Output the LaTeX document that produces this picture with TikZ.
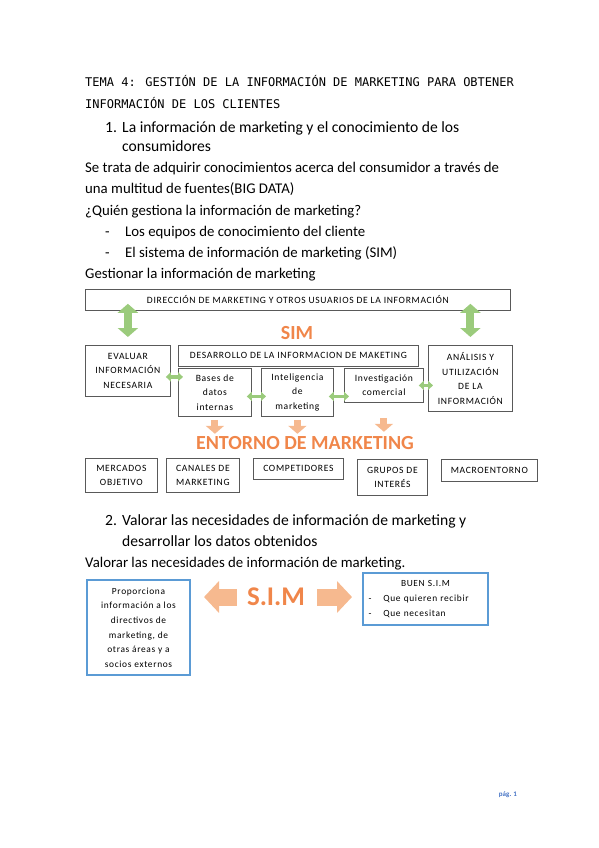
\documentclass[tikz,border=0pt]{standalone}
\usepackage{fontspec}
\setmainfont{Carlito}
\newfontfamily\titulofont{DejaVu Sans Mono}
\newfontfamily\cajafont{Carlito}[LetterSpace=7]
\usetikzlibrary{arrows.meta,positioning,calc}

\definecolor{verdeflecha}{HTML}{9BCB7C}
\definecolor{naranjaflecha}{HTML}{F6B98F}
\definecolor{naranjatexto}{HTML}{F0864A}
\definecolor{azulmarco}{HTML}{5B9BD5}
\definecolor{azulpagina}{HTML}{4472C4}
\definecolor{grismarco}{HTML}{595959}

\begin{document}
\begin{tikzpicture}[x=1pt,y=-1pt,
		linea/.style={anchor=base west, inner sep=0pt, font=\fontsize{14.8}{17}\selectfont},
		apartado/.style={linea, font=\fontsize{15.6}{18}\selectfont},
		titulo/.style={anchor=base west, inner sep=0pt, font=\titulofont\fontsize{12}{14}\selectfont},
		cajon/.style={draw=grismarco, line width=0.8pt, anchor=north west, align=center, inner sep=1pt, font=\cajafont\fontsize{9.6}{14.6}\selectfont},
		cajonazul/.style={draw=azulmarco, line width=2pt, anchor=north west, align=center, inner sep=2pt, font=\cajafont\fontsize{9.4}{14.6}\selectfont},
		rotulo/.style={text=naranjatexto, font=\bfseries\fontsize{20}{20}\selectfont, inner sep=0pt},
		flechaverde/.style={draw=verdeflecha, line width=8pt, {Triangle[width=20pt,length=9pt]}-{Triangle[width=20pt,length=9pt]}},
		flechachica/.style={draw=verdeflecha, line width=3.5pt, {Triangle[width=9pt,length=5pt]}-{Triangle[width=9pt,length=5pt]}, shorten <=-5pt, shorten >=-5pt},
		flechanaranja/.style={draw=naranjaflecha, line width=7pt, -{Triangle[width=18pt,length=8pt]}},
		flechagrande/.style={draw=naranjaflecha, line width=17pt, -{Triangle[width=31pt,length=15pt]}}
	]
	\useasboundingbox (0,0) rectangle (599,848);

	% encabezado
	\node[titulo] (titulo1) at (85,87) {TEMA 4: GESTIÓN DE LA INFORMACIÓN DE MARKETING PARA OBTENER};
	\node[titulo] (titulo2) at (85,109) {INFORMACIÓN DE LOS CLIENTES};
	\node[apartado] (num1) at (105,132) {1.};
	\node[apartado] (punto1a) at (122,132) {La información de marketing y el conocimiento de los};
	\node[apartado] (punto1b) at (122,151) {consumidores};
	\node[linea] (texto1) at (85,172) {Se trata de adquirir conocimientos acerca del consumidor a través de};
	\node[linea] (texto2) at (85,193) {una multitud de fuentes(BIG DATA)};
	\node[linea] (texto3) at (85,215) {¿Quién gestiona la información de marketing?};
	\node[linea] (guion1) at (105,236) {-};
	\node[linea] (lista1) at (125,236) {Los equipos de conocimiento del cliente};
	\node[linea] (guion2) at (105,257) {-};
	\node[linea] (lista2) at (125,257) {El sistema de información de marketing (SIM)};
	\node[linea] (texto4) at (85,278) {Gestionar la información de marketing};

	% esquema SIM
	\node[cajon, minimum width=425pt, minimum height=21pt] (direccion) at (85,289) {DIRECCIÓN DE MARKETING Y OTROS USUARIOS DE LA INFORMACIÓN};
	\node[rotulo] (sim) at (297,333) {SIM};
	\node[cajon, minimum width=85pt, minimum height=51pt] (evaluar) at (85,345) {EVALUAR\\INFORMACIÓN\\NECESARIA};
	\node[cajon, minimum width=240pt, minimum height=21pt] (desarrollo) at (178,345) {DESARROLLO DE LA INFORMACION DE MAKETING};
	\node[cajon, minimum width=73pt, minimum height=48pt] (bases) at (178,368) {Bases de\\datos\\internas};
	\node[cajon, minimum width=72pt, minimum height=48pt] (inteligencia) at (261,368) {Inteligencia\\de\\marketing};
	\node[cajon, minimum width=79pt, minimum height=34pt] (investigacion) at (344,368) {Investigación\\comercial};
	\node[cajon, minimum width=84pt, minimum height=66pt] (analisis) at (428,345) {ANÁLISIS Y\\UTILIZACIÓN\\DE LA\\INFORMACIÓN};

	\draw[flechaverde, shorten <=-7pt, shorten >=8pt] (evaluar.north |- direccion.south) -- (evaluar.north);
	\draw[flechaverde, shorten <=-7pt, shorten >=8pt] (analisis.north |- direccion.south) -- (analisis.north);
	\draw[flechachica] ([yshift=-6pt]evaluar.east) -- ([yshift=-6pt]evaluar.east -| bases.west);
	\draw[flechachica] ([yshift=-4pt]bases.east) -- ([yshift=-4pt]bases.east -| inteligencia.west);
	\draw[flechachica] ([yshift=-4pt]inteligencia.east) -- ([yshift=-4pt]inteligencia.east -| investigacion.west);
	\draw[flechachica] (investigacion.east) -- (investigacion.east -| analisis.west);

	\draw[flechanaranja] ([yshift=-3pt]bases.south) -- ++(0,14);
	\draw[flechanaranja] ([yshift=-3pt]inteligencia.south) -- ++(0,14);
	\draw[flechanaranja] ([yshift=-15pt]investigacion.south) -- ++(0,14);

	\node[rotulo] (entorno) at (305,443) {ENTORNO DE MARKETING};
	\node[cajon, minimum width=72pt, minimum height=34pt] (mercados) at (85,458) {MERCADOS\\OBJETIVO};
	\node[cajon, minimum width=73pt, minimum height=34pt] (canales) at (166,458) {CANALES DE\\MARKETING};
	\node[cajon, minimum width=90pt, minimum height=21pt] (competidores) at (253,458) {COMPETIDORES};
	\node[cajon, minimum width=70pt, minimum height=36pt] (grupos) at (357,459) {GRUPOS DE\\INTERÉS};
	\node[cajon, minimum width=96pt, minimum height=22pt] (macro) at (441,459) {MACROENTORNO};

	% apartado 2
	\node[apartado] (num2) at (105,525) {2.};
	\node[apartado] (punto2a) at (122,525) {Valorar las necesidades de información de marketing y};
	\node[apartado] (punto2b) at (122,546) {desarrollar los datos obtenidos};
	\node[linea] (texto5) at (85,567) {Valorar las necesidades de información de marketing.};

	\node[cajonazul, minimum width=103pt, minimum height=95pt] (proporciona) at (86,579) {Proporciona\\información a los\\directivos de\\marketing, de\\otras áreas y a\\socios externos};
	\node[cajonazul, minimum width=125pt, minimum height=52pt, align=left, text width=114pt, inner xsep=5pt] (buen) at (362,572) {\hfill BUEN S.I.M\hfill\null\\-\hspace{12pt}Que quieren recibir\\-\hspace{12pt}Que necesitan};
	\node[rotulo, font=\bfseries\fontsize{27}{27}\selectfont] (simgrande) at (276,597) {S.I.M};
	\draw[flechagrande] ([xshift=-10pt]simgrande.west) -- ([xshift=13pt]simgrande.west -| proporciona.east);
	\draw[flechagrande] ([xshift=12pt]simgrande.east) -- ([xshift=-10pt]simgrande.east -| buen.west);

	\node[text=azulpagina, font=\bfseries\fontsize{7}{8}\selectfont] (pagina) at (508,795) {pág. 1};
\end{tikzpicture}
\end{document}
